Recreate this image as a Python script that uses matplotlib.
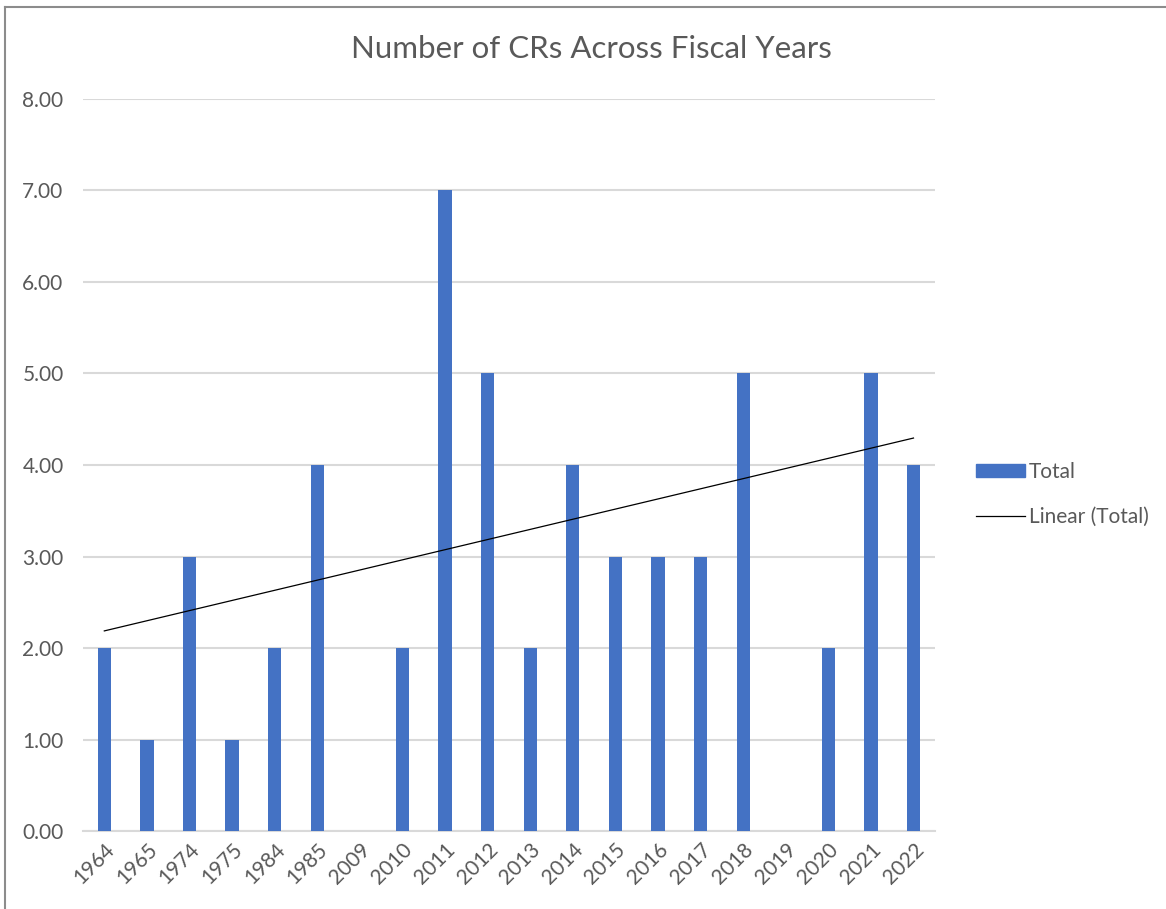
import numpy as np
import matplotlib.pyplot as plt
from matplotlib.lines import Line2D

# Fiscal years and number of CRs (blank years left as NaN)
years = ['1964', '1965', '1974', '1975', '1984', '1985', '2009', '2010', '2011', '2012',
         '2013', '2014', '2015', '2016', '2017', '2018', '2019', '2020', '2021', '2022']
totals = [2, 1, 3, 1, 2, 4, np.nan, 2, 7, 5,
          2, 4, 3, 3, 3, 5, np.nan, 2, 5, 4]
y_ticks = [0, 1, 2, 3, 4, 5, 6, 7, 8]

plt.rcParams['font.family'] = ['Lato', 'DejaVu Sans']

x = np.arange(1, len(years) + 1)
y = np.array(totals, dtype=float)

fig = plt.figure(figsize=(11.66, 9.09), dpi=100)
ax = fig.add_axes([0.0712, 0.0858, 0.7305, 0.8053])

bars = ax.bar(x, np.nan_to_num(y), width=0.31, color='#4472C4', zorder=3)

# linear trend, fitted only on the non-blank years
mask = ~np.isnan(y)
slope, intercept = np.polyfit(x[mask], y[mask], 1)
ax.plot(x, slope * x + intercept, color='black', lw=0.9, zorder=4)

ax.set_xlim(0.5, len(years) + 0.5)
ax.set_ylim(0, 8)
ax.set_yticks(y_ticks)
ax.set_yticklabels([f'{v:.2f}' for v in y_ticks])
ax.set_xticks(x)
ax.set_xticklabels(years, rotation=45, ha='right', rotation_mode='anchor')
ax.tick_params(axis='both', length=0, labelsize=15, labelcolor='#595959')
ax.tick_params(axis='y', pad=14)
ax.tick_params(axis='x', pad=6)

ax.grid(axis='y', color='#d9d9d9', lw=1.5, zorder=0)
for s in ['top', 'right', 'left']:
    ax.spines[s].set_visible(False)
ax.spines['bottom'].set_color('#d9d9d9')
ax.spines['bottom'].set_linewidth(1.5)

fig.text(0.507, 0.946, 'Number of CRs Across Fiscal Years', ha='center', va='center',
         fontsize=22.5, color='#595959')

handles = [plt.Rectangle((0, 0), 1, 1, color='#4472C4'),
           Line2D([0], [0], color='black', lw=0.9)]
fig.legend(handles, ['Total', 'Linear (Total)'], loc='center left',
           bbox_to_anchor=(0.837, 0.456), frameon=False, fontsize=15,
           labelcolor='#595959', handlelength=2.35, handleheight=0.6,
           handletextpad=0.2, labelspacing=1.2, borderpad=0, borderaxespad=0)

# chart border
fig.add_artist(Line2D([0.004, 1.0], [0.992, 0.992], color='#8c8c8c', lw=1.5))
fig.add_artist(Line2D([0.004, 0.004], [0.0, 0.992], color='#8c8c8c', lw=1.5))

fig.savefig('out.png', dpi=100)
